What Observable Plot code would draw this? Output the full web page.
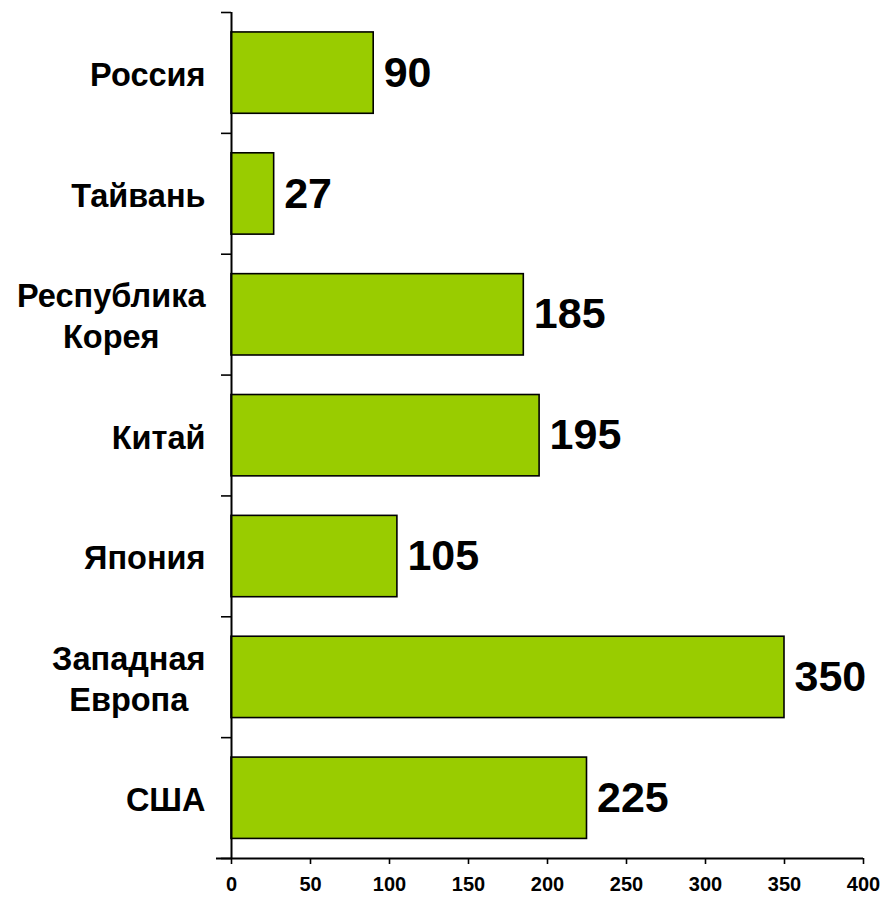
<!DOCTYPE html>
<html>
<head>
<meta charset="utf-8">
<script src="https://cdn.jsdelivr.net/npm/d3@7"></script>
<script src="https://cdn.jsdelivr.net/npm/@observablehq/plot@0.6"></script>
<style>
  html, body { margin: 0; padding: 0; background: #fff; }
  #chart svg { display: block; }
</style>
</head>
<body>
<div id="chart"></div>
<script>
const categories = ["Россия", "Тайвань", "Республика\nКорея", "Китай", "Япония", "Западная\nЕвропа", "США"];
const values = [90, 27, 185, 195, 105, 350, 225];
const xTicks = [0, 50, 100, 150, 200, 250, 300, 350, 400];

const data = categories.map((c, i) => ({ i, category: c, value: values[i] }));
const bandTicks = d3.range(categories.length + 1);

const labelSize = 32.5;
const labelFont = `bold ${labelSize}px 'Liberation Sans', Arial, sans-serif`;
const ctx = document.createElement("canvas").getContext("2d");
ctx.font = labelFont;
const blockWidth = c => Math.max(...c.split("\n").map(s => ctx.measureText(s).width));

// Each category label: a centered block whose right edge sits left of the axis
const labelMarks = data.map(d => Plot.text([d], {
  x: 0, y: e => e.i + 0.5, text: "category",
  textAnchor: "middle", dx: -26 - blockWidth(d.category) / 2,
  fontSize: labelSize, fontWeight: "bold", lineHeight: 1.25, fill: "black"
}));

const chart = Plot.plot({
  width: 883,
  height: 898,
  marginLeft: 231,
  marginRight: 20,
  marginTop: 12,
  marginBottom: 40,
  style: { fontFamily: "'Liberation Sans', Arial, sans-serif", fontWeight: "bold", color: "black", background: "white" },
  x: { domain: [0, 400], label: null },
  y: { domain: [0, categories.length], reverse: true, label: null },
  marks: [
    Plot.rectX(data, {
      x1: 0, x2: "value",
      y1: d => d.i + 0.165, y2: d => d.i + 0.838,
      fill: "#99CC00", stroke: "black", strokeWidth: 1.6
    }),
    Plot.ruleX([0], { stroke: "black", strokeWidth: 2 }),
    Plot.ruleY([categories.length], { x1: -9.5, x2: 400, stroke: "black", strokeWidth: 2 }),
    Plot.axisY({ ticks: bandTicks, tickFormat: () => "", tickSize: 10, strokeWidth: 1.6, stroke: "black", label: null }),
    Plot.axisX({ ticks: xTicks, tickSize: 6, tickPadding: 12, fontSize: 20, fontWeight: "bold", strokeWidth: 1.6, stroke: "black", fill: "black", label: null }),
    ...labelMarks,
    Plot.text(data, {
      x: "value", y: d => d.i + 0.5, text: d => String(d.value),
      textAnchor: "start", dx: 10, fontSize: 43, fontWeight: "bold", fill: "black"
    })
  ]
});
document.getElementById("chart").appendChild(chart);
</script>
</body>
</html>
